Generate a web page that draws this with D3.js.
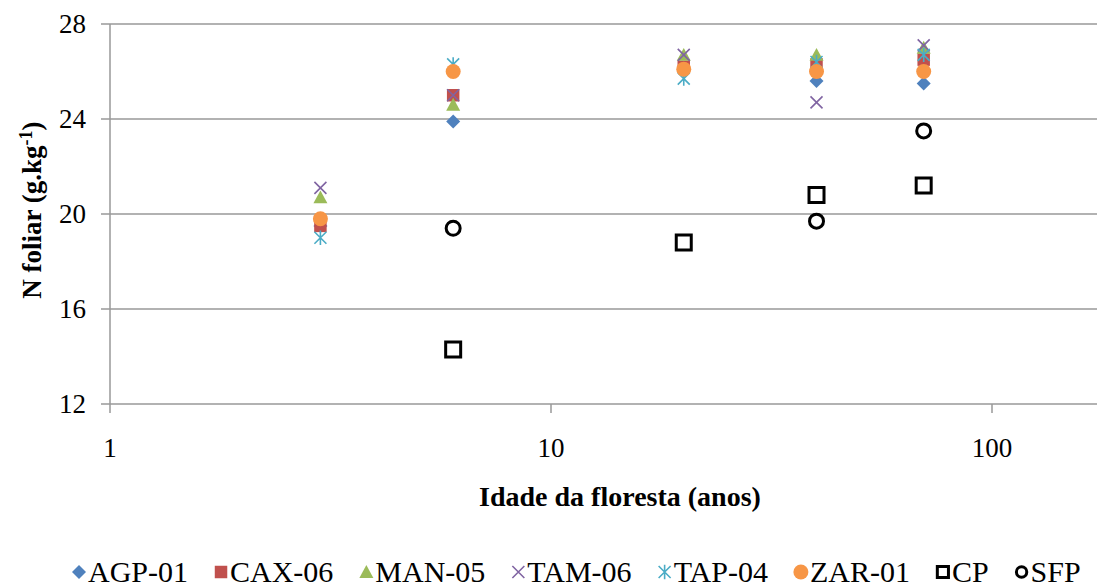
<!DOCTYPE html>
<html>
<head>
<meta charset="utf-8">
<script src="https://cdn.jsdelivr.net/npm/d3@7"></script>
<style>
body { margin: 0; background: #fff; }
text { font-family: "Liberation Serif", "Times New Roman", serif; fill: #000; }
</style>
</head>
<body>
<script>
// forest age of each plot (years)
var ages = [3, 6, 20, 40, 70];

// foliar N of each plot (g/kg)
var agp01 = [19.5, 23.9, 26.1, 25.6, 25.5];
var cax06 = [19.5, 25.0, 26.2, 26.3, 26.5];
var man05 = [20.7, 24.6, 26.7, 26.7, 27.0];
var tam06 = [21.1, 25.0, 26.7, 24.7, 27.1];
var tap04 = [19.0, 26.3, 25.7, 26.4, 26.7];
var zar01 = [19.8, 26.0, 26.1, 26.0, 26.0];

var cpAges = [6, 20, 40, 70];
var cp = [14.3, 18.8, 20.8, 21.2];
var sfpAges = [6, 40, 70];
var sfp = [19.4, 19.7, 23.5];

var names = ["AGP-01", "CAX-06", "MAN-05", "TAM-06", "TAP-04", "ZAR-01", "CP", "SFP"];
var yTicks = [12, 16, 20, 24, 28];
var xTicks = [1, 10, 100];

// svg size
var w = 1097;
var h = 588;
var left = 110;
var top_ = 24;
var bottom = 404;

// custom marker shapes (size = side squared, like d3.symbolSquare)
var diamond = {draw: function(c, s) {
  var r = Math.sqrt(s) / 2;
  c.moveTo(0, -r); c.lineTo(r, 0); c.lineTo(0, r); c.lineTo(-r, 0); c.closePath();
}};
var triangle = {draw: function(c, s) {
  var r = Math.sqrt(s) / 2;
  c.moveTo(0, -r); c.lineTo(r, r * 0.85); c.lineTo(-r, r * 0.85); c.closePath();
}};
var cross = {draw: function(c, s) {
  var r = Math.sqrt(s) / 2;
  c.moveTo(-r, -r); c.lineTo(r, r); c.moveTo(-r, r); c.lineTo(r, -r);
}};
var star = {draw: function(c, s) {
  var r = Math.sqrt(s) / 2;
  c.moveTo(-r, -r); c.lineTo(r, r); c.moveTo(-r, r); c.lineTo(r, -r);
  c.moveTo(0, -r * 1.2); c.lineTo(0, r * 1.2);
}};
var ring = {draw: function(c, s) {
  var r = Math.sqrt(s) / 2;
  c.moveTo(r, 0); c.arc(0, 0, r, 0, 2 * Math.PI);
}};

var series = [
  {name: names[0], x: ages, y: agp01, type: diamond, size: 196, fill: "#4F81BD", stroke: "none", sw: 0},
  {name: names[1], x: ages, y: cax06, type: d3.symbolSquare, size: 156, fill: "#C0504D", stroke: "none", sw: 0},
  {name: names[2], x: ages, y: man05, type: triangle, size: 196, fill: "#9BBB59", stroke: "none", sw: 0},
  {name: names[3], x: ages, y: tam06, type: cross, size: 144, fill: "none", stroke: "#8064A2", sw: 1.6},
  {name: names[4], x: ages, y: tap04, type: star, size: 144, fill: "none", stroke: "#4BACC6", sw: 1.6},
  {name: names[5], x: ages, y: zar01, type: ring, size: 225, fill: "#F79646", stroke: "none", sw: 0},
  {name: names[6], x: cpAges, y: cp, type: d3.symbolSquare, size: 225, fill: "none", stroke: "#000", sw: 3},
  {name: names[7], x: sfpAges, y: sfp, type: ring, size: 196, fill: "none", stroke: "#000", sw: 3}
];

var svg = d3.select("body")
            .append("svg")
            .attr("width", w)
            .attr("height", h);

// scales: log x, one decade is about 441px
var xScale = d3.scaleLog()
               .domain([1, 175])
               .range([left, left + 441 * Math.log10(175)]);
var yScale = d3.scaleLinear()
               .domain([12, 28])
               .range([bottom, top_]);

// horizontal gridlines
svg.selectAll(".grid")
   .data(yTicks)
   .enter()
   .append("line")
   .attr("x1", left - 9)
   .attr("x2", w)
   .attr("y1", function(d) { return yScale(d); })
   .attr("y2", function(d) { return yScale(d); })
   .attr("stroke", "#999")
   .attr("stroke-width", 1.5);

// y axis line
svg.append("line")
   .attr("x1", left).attr("x2", left)
   .attr("y1", top_).attr("y2", bottom)
   .attr("stroke", "#999")
   .attr("stroke-width", 1.5);

// x ticks
svg.selectAll(".xtick")
   .data(xTicks)
   .enter()
   .append("line")
   .attr("x1", function(d) { return xScale(d); })
   .attr("x2", function(d) { return xScale(d); })
   .attr("y1", bottom)
   .attr("y2", bottom + 9)
   .attr("stroke", "#999")
   .attr("stroke-width", 1.5);

// tick labels
svg.selectAll(".ylab")
   .data(yTicks)
   .enter()
   .append("text")
   .attr("x", 86)
   .attr("y", function(d) { return yScale(d); })
   .attr("dy", "0.35em")
   .attr("text-anchor", "end")
   .style("font-size", "27px")
   .text(function(d) { return d; });

svg.selectAll(".xlab")
   .data(xTicks)
   .enter()
   .append("text")
   .attr("x", function(d) { return xScale(d); })
   .attr("y", 457)
   .attr("text-anchor", "middle")
   .style("font-size", "27px")
   .text(function(d) { return d; });

// axis titles
svg.append("text")
   .attr("x", 620)
   .attr("y", 506)
   .attr("text-anchor", "middle")
   .style("font-size", "28px")
   .style("font-weight", "bold")
   .text("Idade da floresta (anos)");

var yTitle = svg.append("text")
   .attr("transform", "translate(41,210) rotate(-90)")
   .attr("text-anchor", "middle")
   .style("font-size", "27px")
   .style("font-weight", "bold");
yTitle.append("tspan").text("N foliar (g.kg");
yTitle.append("tspan").attr("dy", -9).style("font-size", "18px").text("-1");
yTitle.append("tspan").attr("dy", 9).text(")");

// points, drawn series by series so later ones sit on top
series.forEach(function(s) {
  svg.append("g")
     .selectAll("path")
     .data(s.x.map(function(x, i) { return {x: x, y: s.y[i]}; }))
     .enter()
     .append("path")
     .attr("transform", function(d) {
       return "translate(" + xScale(d.x) + "," + yScale(d.y) + ")";
     })
     .attr("d", d3.symbol().type(s.type).size(s.size))
     .attr("fill", s.fill)
     .attr("stroke", s.stroke)
     .attr("stroke-width", s.sw);
});

// legend along the bottom
var lx = 79;
var ly = 572;
series.forEach(function(s) {
  var small = s.sw === 3 ? 0.55 : 1;
  svg.append("path")
     .attr("transform", "translate(" + lx + "," + ly + ")")
     .attr("d", d3.symbol().type(s.type).size(s.size * small))
     .attr("fill", s.fill)
     .attr("stroke", s.stroke)
     .attr("stroke-width", s.sw);
  var t = svg.append("text")
             .attr("x", lx + 9)
             .attr("y", 582)
             .style("font-size", "30px")
             .text(s.name);
  lx = lx + 9 + t.node().getComputedTextLength() + 33;
});
</script>
</body>
</html>
